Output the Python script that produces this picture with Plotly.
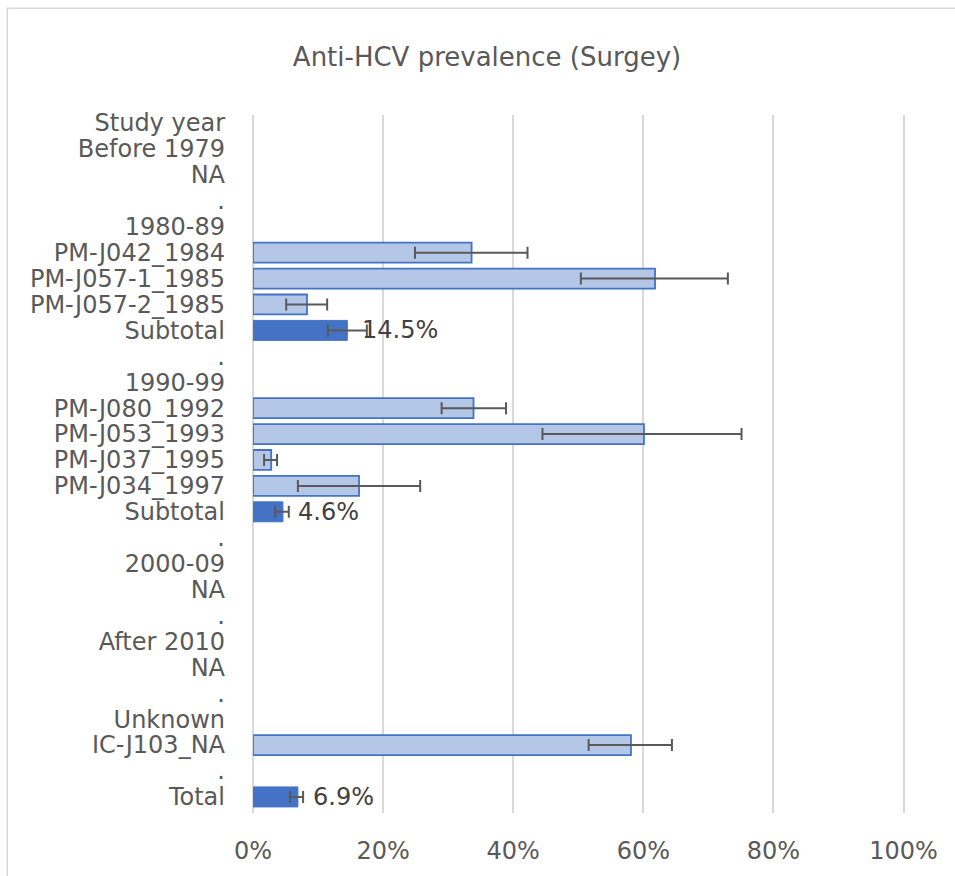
import plotly.graph_objects as go

# Row labels (top to bottom)
labels = [
    "Study year", "Before 1979", "NA", ".",
    "1980-89", "PM-J042_1984", "PM-J057-1_1985", "PM-J057-2_1985", "Subtotal", ".",
    "1990-99", "PM-J080_1992", "PM-J053_1993", "PM-J037_1995", "PM-J034_1997", "Subtotal", ".",
    "2000-09", "NA", ".",
    "After 2010", "NA", ".",
    "Unknown", "IC-J103_NA", ".",
    "Total",
]

# individual studies (None = no bar)
study_val = [None, None, None, None,
             None, 0.336, 0.618, 0.083, None, None,
             None, 0.339, 0.601, 0.028, 0.163, None, None,
             None, None, None,
             None, None, None,
             None, 0.581, None,
             None]
study_lo = [None, None, None, None,
            None, 0.249, 0.504, 0.051, None, None,
            None, 0.290, 0.445, 0.017, 0.069, None, None,
            None, None, None,
            None, None, None,
            None, 0.516, None,
            None]
study_hi = [None, None, None, None,
            None, 0.422, 0.730, 0.114, None, None,
            None, 0.389, 0.751, 0.037, 0.257, None, None,
            None, None, None,
            None, None, None,
            None, 0.644, None,
            None]

# pooled subtotals / total
pool_val = [None, None, None, None,
            None, None, None, None, 0.145, None,
            None, None, None, None, None, 0.046, None,
            None, None, None,
            None, None, None,
            None, None, None,
            0.069]
pool_lo = [None, None, None, None,
           None, None, None, None, 0.115, None,
           None, None, None, None, None, 0.034, None,
           None, None, None,
           None, None, None,
           None, None, None,
           0.057]
pool_hi = [None, None, None, None,
           None, None, None, None, 0.175, None,
           None, None, None, None, None, 0.055, None,
           None, None, None,
           None, None, None,
           None, None, None,
           0.077]

rows = list(range(len(labels)))


def errs(v, lo, hi):
    plus = [None if a is None else h - a for a, h in zip(v, hi)]
    minus = [None if a is None else a - l for a, l in zip(v, lo)]
    return plus, minus


fig = go.Figure()

sp, sm = errs(study_val, study_lo, study_hi)
fig.add_trace(go.Bar(
    y=rows, x=study_val, orientation="h", width=0.77,
    marker=dict(color="#B4C7E7", line=dict(color="#4472C4", width=1.8)),
    error_x=dict(type="data", symmetric=False, array=sp, arrayminus=sm,
                 color="#595959", thickness=2, width=6),
    showlegend=False, hoverinfo="skip",
))

pp, pm = errs(pool_val, pool_lo, pool_hi)
fig.add_trace(go.Bar(
    y=rows, x=pool_val, orientation="h", width=0.77,
    marker=dict(color="#4472C4", line=dict(color="#4472C4", width=1)),
    error_x=dict(type="data", symmetric=False, array=pp, arrayminus=pm,
                 color="#595959", thickness=2, width=6),
    showlegend=False, hoverinfo="skip",
))

# data labels for pooled bars
for r, v in zip(rows, pool_val):
    if v is not None:
        fig.add_annotation(x=v, y=r, text=f"{v*100:.1f}%", showarrow=False,
                           xanchor="left", xshift=13,
                           font=dict(size=24, color="#404040"))

fig.update_layout(
    width=955, height=876,
    margin=dict(l=253, r=44.5, t=115, b=63),
    paper_bgcolor="white", plot_bgcolor="white",
    font=dict(family="DejaVu Sans", size=24, color="#595959"),
    title=dict(text="Anti-HCV prevalence (Surgey)", x=0.51, xanchor="center",
               y=0.935, yanchor="middle", font=dict(size=26, color="#595959")),
    barmode="overlay",
    shapes=[dict(type="rect", xref="paper", yref="paper",
                 x0=-0.374, x1=1.3, y0=-0.3, y1=1.153,
                 line=dict(color="#D9D9D9", width=1.5), layer="below")],
)
fig.update_xaxes(range=[0, 1.01], tickvals=[0, 0.2, 0.4, 0.6, 0.8, 1.0],
                 tickformat=".0%", showgrid=True,
                 gridcolor="#D9D9D9", gridwidth=1.5, zeroline=True,
                 zerolinecolor="#D9D9D9", zerolinewidth=1.5,
                 showline=False, ticks="", ticklabelstandoff=21,
                 tickfont=dict(size=24, color="#595959"))
fig.update_yaxes(range=[26.62, -0.31], tickvals=rows, ticktext=labels,
                 showgrid=False, zeroline=False, showline=False, ticks="",
                 ticklabelstandoff=27, tickfont=dict(size=24, color="#595959"))

fig.write_html("out.html", config={"displayModeBar": False},
               post_script="document.body.style.margin='0';")
